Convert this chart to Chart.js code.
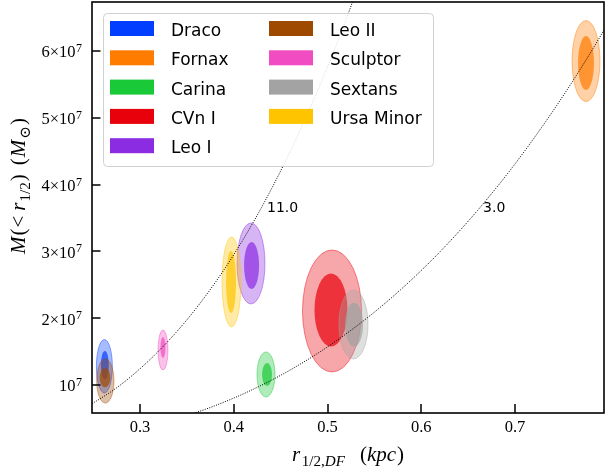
<!DOCTYPE html>
<html>
<head>
<meta charset="utf-8">
<script src="https://cdn.jsdelivr.net/npm/chart.js@4.4.1/dist/chart.umd.min.js"></script>
<style>
  html, body { margin: 0; padding: 0; background: #fff; }
  #wrap { width: 605px; height: 474px; position: relative; }
</style>
</head>
<body>
<div id="wrap"><canvas id="chart"></canvas></div>
<script>
const galaxies = ['Draco', 'Fornax', 'Carina', 'CVn I', 'Leo I', 'Leo II', 'Sculptor', 'Sextans', 'Ursa Minor'];
const colors = ['#023eff', '#ff7c00', '#1ac938', '#e8000b', '#8b2be2', '#9f4800', '#f14cc1', '#a3a3a3', '#ffc400'];

// outer contour: centre and half extent (r in kpc, M in Msun)
const outerR = [0.2620, 0.7757, 0.4344, 0.5048, 0.4184, 0.2630, 0.3245, 0.5277, 0.3976];
const outerM = [1.280e7, 5.850e7, 1.157e7, 2.108e7, 2.819e7, 1.060e7, 1.524e7, 1.906e7, 2.542e7];
const outerDR = [0.0085, 0.0149, 0.0096, 0.0315, 0.0149, 0.0092, 0.0053, 0.0155, 0.0101];
const outerDM = [0.400e7, 0.606e7, 0.337e7, 0.913e7, 0.606e7, 0.330e7, 0.300e7, 0.516e7, 0.674e7];

// inner contour
const innerR = [0.2625, 0.7757, 0.4355, 0.5037, 0.4190, 0.2627, 0.3245, 0.5283, 0.3971];
const innerM = [1.300e7, 5.820e7, 1.157e7, 2.123e7, 2.789e7, 1.110e7, 1.561e7, 1.903e7, 2.542e7];
const innerDR = [0.0042, 0.0085, 0.0053, 0.0176, 0.0080, 0.0057, 0.0027, 0.0096, 0.0053];
const innerDM = [0.210e7, 0.404e7, 0.172e7, 0.546e7, 0.352e7, 0.145e7, 0.157e7, 0.329e7, 0.464e7];

// dotted density lines
const curve11R = [0.24, 0.28, 0.32, 0.36, 0.40, 0.44, 0.48, 0.52, 0.56];
const curve11M = [0.64e7, 1.01e7, 1.51e7, 2.15e7, 2.95e7, 3.93e7, 5.10e7, 6.48e7, 8.09e7];
const curve3R = [0.34, 0.38, 0.42, 0.46, 0.50, 0.54, 0.58, 0.62, 0.66, 0.70, 0.74, 0.78, 0.82];
const curve3M = [0.494e7, 0.690e7, 0.931e7, 1.223e7, 1.571e7, 1.979e7, 2.452e7, 2.995e7, 3.613e7, 4.310e7, 5.092e7, 5.963e7, 6.929e7];
const curveLabels = ['11.0', '3.0'];
const curveLabelR = [0.4355, 0.6659];
const curveLabelM = [3.65e7, 3.65e7];

const xTicks = [0.3, 0.4, 0.5, 0.6, 0.7];
const xTickLabels = ['0.3', '0.4', '0.5', '0.6', '0.7'];
const yTicks = [1e7, 2e7, 3e7, 4e7, 5e7, 6e7];
const yTickBase = ['10', '2×10', '3×10', '4×10', '5×10', '6×10'];
const yTickExp = ['7', '7', '7', '7', '7', '7'];

const hexA = (hex, a) => {
  const n = parseInt(hex.slice(1), 16);
  return `rgba(${n >> 16},${(n >> 8) & 255},${n & 255},${a})`;
};

const datasets = galaxies.map((name, i) => ({
  label: name,
  type: 'scatter',
  data: [
    { x: outerR[i], y: outerM[i], dx: outerDR[i], dy: outerDM[i] },
    { x: innerR[i], y: innerM[i], dx: innerDR[i], dy: innerDM[i] }
  ],
  backgroundColor: colors[i],
  borderColor: colors[i],
  pointRadius: 0,
  contour: true
}));

[[curve11R, curve11M], [curve3R, curve3M]].forEach(([rs, ms], k) => {
  datasets.push({
    label: 'rho ' + curveLabels[k],
    type: 'line',
    data: rs.map((r, j) => ({ x: r, y: ms[j] })),
    borderColor: '#000',
    borderWidth: 1,
    borderDash: [1, 1.4],
    pointRadius: 0,
    fill: false,
    cubicInterpolationMode: 'monotone'
  });
});

// filled contours, drawn below the dotted lines
const contourPlugin = {
  id: 'contours',
  beforeDatasetsDraw(chart) {
    const { ctx, chartArea: ca, scales: { x, y } } = chart;
    ctx.save();
    ctx.beginPath();
    ctx.rect(ca.left, ca.top, ca.right - ca.left, ca.bottom - ca.top);
    ctx.clip();
    chart.data.datasets.forEach(ds => {
      if (!ds.contour) return;
      ds.data.forEach((p, lev) => {
        const px = x.getPixelForValue(p.x);
        const py = y.getPixelForValue(p.y);
        const rx = Math.abs(x.getPixelForValue(p.x + p.dx) - px);
        const ry = Math.abs(y.getPixelForValue(p.y + p.dy) - py);
        ctx.beginPath();
        ctx.ellipse(px, py, rx, ry, 0, 0, Math.PI * 2);
        ctx.fillStyle = hexA(ds.backgroundColor, lev === 0 ? 0.35 : 0.7);
        ctx.fill();
        if (lev === 0) {
          ctx.strokeStyle = hexA(ds.borderColor, 0.45);
          ctx.lineWidth = 1;
          ctx.stroke();
        }
      });
    });
    ctx.restore();
  }
};

// frame, inward ticks, y tick labels and contour labels
const framePlugin = {
  id: 'frame',
  afterDatasetsDraw(chart) {
    const { ctx, chartArea: ca, scales: { x, y } } = chart;
    ctx.save();
    ctx.strokeStyle = '#000';
    ctx.lineWidth = 1.5;
    ctx.beginPath();
    xTicks.forEach(v => {
      const px = Math.round(x.getPixelForValue(v));
      ctx.moveTo(px, ca.bottom);
      ctx.lineTo(px, ca.bottom - 9);
    });
    yTicks.forEach(v => {
      const py = Math.round(y.getPixelForValue(v));
      ctx.moveTo(ca.left, py);
      ctx.lineTo(ca.left + 8.5, py);
    });
    ctx.stroke();
    ctx.lineWidth = 1.6;
    ctx.strokeRect(ca.left, ca.top, ca.right - ca.left, ca.bottom - ca.top);

    ctx.fillStyle = '#000';
    ctx.textAlign = 'right';
    ctx.textBaseline = 'alphabetic';
    yTicks.forEach((v, i) => {
      const py = y.getPixelForValue(v);
      const right = ca.left - 10;
      ctx.font = '12px "Liberation Serif"';
      const ew = ctx.measureText(yTickExp[i]).width;
      ctx.fillText(yTickExp[i], right, py + 1);
      ctx.font = '16.5px "Liberation Serif"';
      ctx.fillText(yTickBase[i], right - ew - 0.5, py + 6.5);
    });

    ctx.font = '14px "DejaVu Sans"';
    ctx.textAlign = 'left';
    ctx.textBaseline = 'middle';
    curveLabels.forEach((t, k) => {
      ctx.fillText(t, x.getPixelForValue(curveLabelR[k]), y.getPixelForValue(curveLabelM[k]));
    });
    ctx.restore();
  }
};

const legendPlugin = {
  id: 'legendBox',
  afterDraw(chart) {
    const { ctx, chartArea: ca } = chart;
    const lx = ca.left + 11, ly = ca.top + 11, lw = 330, lh = 153;
    ctx.save();
    ctx.beginPath();
    ctx.roundRect(lx + 0.5, ly + 0.5, lw, lh, 4);
    ctx.fillStyle = 'rgba(255,255,255,0.85)';
    ctx.fill();
    ctx.strokeStyle = '#d0d0d0';
    ctx.lineWidth = 1;
    ctx.stroke();
    ctx.font = '17px "DejaVu Sans"';
    ctx.textBaseline = 'alphabetic';
    ctx.textAlign = 'left';
    galaxies.forEach((name, i) => {
      const col = i < 5 ? 0 : 1;
      const row = i < 5 ? i : i - 5;
      const px = lx + 7 + col * 159;
      const py = ly + 8 + row * 29.3;
      ctx.fillStyle = colors[i];
      ctx.fillRect(px, py, 44, 15);
      ctx.fillStyle = '#000';
      ctx.fillText(name, px + 61, py + 15);
    });
    ctx.restore();
  }
};

// run = {t, it: italic, sub: subscript, gap: extra space after}
function drawMath(ctx, runs, size, x, y) {
  const fontOf = r => (r.it ? 'italic ' : '') + (r.sub ? size * 0.72 : size) + 'px "Liberation Serif", "DejaVu Serif"';
  const widthOf = r => { ctx.font = fontOf(r); return ctx.measureText(r.t).width + (r.gap || 0); };
  const w = runs.reduce((s, r) => s + widthOf(r), 0);
  let cx = x - w / 2;
  runs.forEach(r => {
    ctx.font = fontOf(r);
    ctx.fillText(r.t, cx, y + (r.sub ? size * 0.22 : 0));
    cx += widthOf(r);
  });
}

const titlePlugin = {
  id: 'axisTitles',
  afterDraw(chart) {
    const { ctx, chartArea: ca } = chart;
    ctx.save();
    ctx.fillStyle = '#000';
    ctx.textBaseline = 'alphabetic';
    ctx.textAlign = 'left';
    drawMath(ctx, [
      { t: 'r', it: true, gap: 1.5 },
      { t: '1/2,', sub: true },
      { t: 'DF', sub: true, it: true, gap: 15 },
      { t: '(' },
      { t: 'kpc', it: true, gap: 1 },
      { t: ')' }
    ], 21, (ca.left + ca.right) / 2, 461);
    ctx.translate(25, 186);
    ctx.rotate(-Math.PI / 2);
    drawMath(ctx, [
      { t: 'M', it: true, gap: 1 },
      { t: '(', gap: 1 },
      { t: '<', gap: 5 },
      { t: 'r', it: true, gap: 1 },
      { t: '1/2', sub: true, gap: 1 },
      { t: ')', gap: 9 },
      { t: '(', gap: 1 },
      { t: 'M', it: true, gap: 1 },
      { t: '⊙', sub: true, gap: 1 },
      { t: ')' }
    ], 21, 0, 0);
    ctx.restore();
  }
};

new Chart(document.getElementById('chart'), {
  type: 'scatter',
  data: { datasets },
  options: {
    responsive: true,
    maintainAspectRatio: false,
    animation: false,
    devicePixelRatio: 1,
    layout: { padding: { top: 2, right: 1, left: 0, bottom: 0 } },
    plugins: { legend: { display: false }, tooltip: { enabled: false } },
    scales: {
      x: {
        type: 'linear',
        min: 0.2488,
        max: 0.7949,
        grid: { display: false, drawTicks: false },
        border: { display: false },
        afterBuildTicks: s => { s.ticks = xTicks.map(v => ({ value: v })); },
        afterFit: s => { s.height = 61; s.paddingLeft = 0; s.paddingRight = 0; },
        ticks: {
          autoSkip: false,
          maxRotation: 0,
          padding: 5,
          color: '#000',
          font: { family: 'Liberation Serif', size: 16.5 },
          callback: (v, i) => xTickLabels[i]
        }
      },
      y: {
        type: 'linear',
        min: 0.5808e7,
        max: 6.7335e7,
        grid: { display: false, drawTicks: false },
        border: { display: false },
        afterBuildTicks: s => { s.ticks = yTicks.map(v => ({ value: v })); },
        afterFit: s => { s.width = 92; s.paddingTop = 0; s.paddingBottom = 0; },
        ticks: { display: false }
      }
    }
  },
  plugins: [contourPlugin, framePlugin, legendPlugin, titlePlugin]
});
</script>
</body>
</html>
